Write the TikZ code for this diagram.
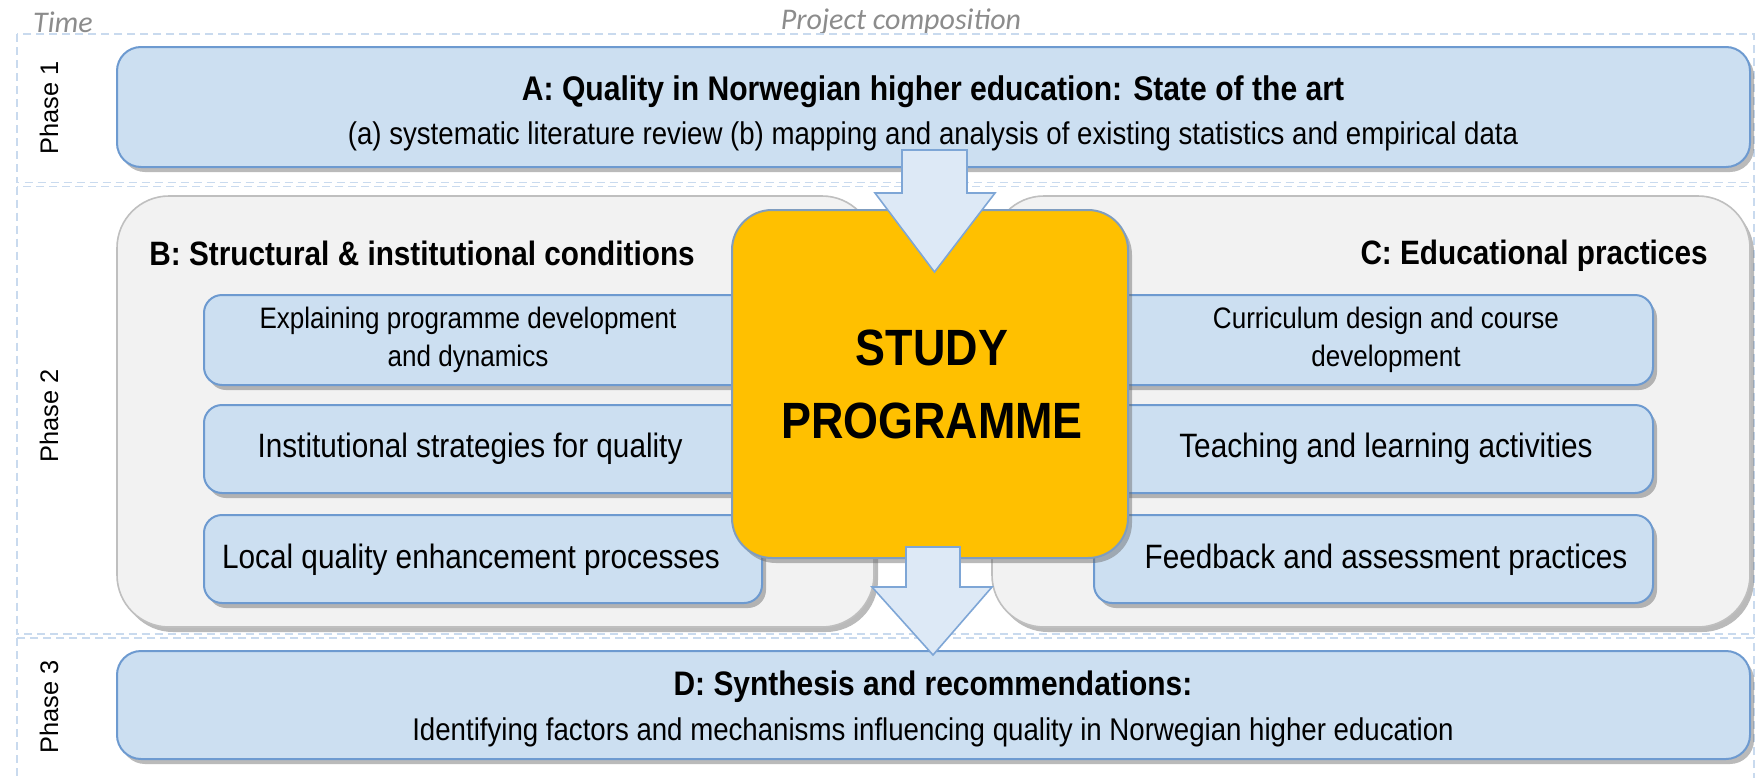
\documentclass[tikz,border=0pt]{standalone}
\usepackage{fontspec}
\setmainfont{Liberation Sans}[FakeStretch=0.88]
\newfontfamily\plainfont{Liberation Sans}
\newfontfamily\calfont{Carlito}
\usetikzlibrary{shadows}
\definecolor{boxfill}{HTML}{CCDFF1}
\definecolor{boxline}{HTML}{6D9AD0}
\definecolor{spfill}{HTML}{FFC000}
\definecolor{spline}{HTML}{7F9DC0}
\definecolor{contfill}{HTML}{F2F2F2}
\definecolor{contline}{HTML}{BFBFBF}
\definecolor{arrfill}{HTML}{DDE9F6}
\definecolor{arrline}{HTML}{7EA6D6}
\definecolor{dashcol}{HTML}{C9DAEE}
\definecolor{labgray}{HTML}{8C8C8C}
\tikzset{
  sz/.style 2 args={minimum width=#1*0.5pt, minimum height=#2*0.5pt},
  shad/.style={drop shadow={shadow xshift=2pt, shadow yshift=-2.5pt, opacity=0.45, fill=black!60}},
  bluebox/.style={draw=boxline, line width=1pt, fill=boxfill, rounded corners=9pt, inner sep=0pt, shad},
  bigbox/.style={bluebox, rounded corners=12pt},
  contbox/.style={draw=contline, line width=0.8pt, fill=contfill, rounded corners=26pt, inner sep=0pt, shad},
  spbox/.style={draw=spline, line width=1pt, fill=spfill, rounded corners=20pt, inner sep=0pt, shad},
  phasebox/.style={draw=dashcol, line width=0.8pt, dash pattern=on 4pt off 2.5pt},
  blockarrow/.style={draw=arrline, line width=0.8pt, fill=arrfill, line join=miter},
  toptext/.style={font=\calfont\itshape\fontsize{15}{17}\selectfont, text=labgray, inner sep=0pt},
  phasetext/.style={font=\plainfont\fontsize{12.7}{14}\selectfont, rotate=90, inner sep=0pt},
  titletext/.style={font=\bfseries\fontsize{17.1}{19}\selectfont, inner sep=0pt, anchor=base},
  subtext/.style={font=\fontsize{15.7}{18}\selectfont, inner sep=0pt, anchor=base},
  grouptitle/.style={font=\bfseries\fontsize{16.9}{19}\selectfont, inner sep=0pt},
  itemtext/.style={font=\fontsize{16.9}{19}\selectfont, inner sep=0pt, anchor=base},
  itemtexttwo/.style={font=\fontsize{14.8}{19}\selectfont, inner sep=0pt, align=center},
}
\begin{document}
\begin{tikzpicture}[x=0.5pt,y=-0.5pt]
\useasboundingbox (0,0) rectangle (1757,777);
\fill[white] (0,0) rectangle (1757,777);

% labels on top
\node[toptext] (time) at (63,22) {Time};
\node[toptext] (proj) at (901,22) {Project composition};

% phase areas
\draw[phasebox] (17,34) rectangle (1754,182.5);
\draw[phasebox] (17,186.5) rectangle (1754,634);
\draw[phasebox] (17,638) rectangle (1754,790);
\node[phasetext] (ph1) at (49,108) {Phase 1};
\node[phasetext] (ph2) at (49,416) {Phase 2};
\node[phasetext] (ph3) at (49,707) {Phase 3};

% Box A
\node[bigbox, sz={1633}{120}] (A) at (933.5,107) {};
\node[titletext] (Atitle) at (933,100) {A: Quality in Norwegian higher education: State of the art};
\node[subtext] (Asub) at (933,144) {(a) systematic literature review (b) mapping and analysis of existing statistics and empirical data};

% Containers B and C
\node[contbox, sz={757}{431}] (B) at (495.5,411.5) {};
\node[contbox, sz={758}{431}] (C) at (1371,411.5) {};
\node[grouptitle, anchor=base west] (Btitle) at (149,265) {B: Structural \& institutional conditions};
\node[grouptitle, anchor=base east] (Ctitle) at (1708,264) {C: Educational practices};

% sub boxes B
\node[bluebox, sz={558}{90}] (B1) at (483,340) {};
\node[bluebox, sz={558}{88}] (B2) at (483,449) {};
\node[bluebox, sz={558}{88}] (B3) at (483,559) {};
\node[itemtexttwo] (B1t) at (468,340) {Explaining programme development\\and dynamics};
\node[itemtext] (B2t) at (470,457) {Institutional strategies for quality};
\node[itemtext] (B3t) at (471,568) {Local quality enhancement processes};

% sub boxes C
\node[bluebox, sz={559}{90}] (C1) at (1373.5,340) {};
\node[bluebox, sz={559}{88}] (C2) at (1373.5,449) {};
\node[bluebox, sz={559}{88}] (C3) at (1373.5,559) {};
\node[itemtexttwo] (C1t) at (1386,340) {Curriculum design and course\\development};
\node[itemtext] (C2t) at (1386,457) {Teaching and learning activities};
\node[itemtext] (C3t) at (1386,568) {Feedback and assessment practices};

% Box D
\node[bigbox, sz={1633}{108}] (D) at (933.5,705) {};
\node[titletext, font=\bfseries\fontsize{17}{19}\selectfont] (Dtitle) at (933,695) {D: Synthesis and recommendations:};
\node[subtext] (Dsub) at (933,740) {Identifying factors and mechanisms influencing quality in Norwegian higher education};

% Study programme
\node[spbox, sz={396}{348}] (SP) at (930,384) {};
\node[font=\bfseries\fontsize{25.5}{36.5}\selectfont, inner sep=0pt, anchor=base] (SPt1) at (932,365) {STUDY};
\node[font=\bfseries\fontsize{25.5}{36.5}\selectfont, inner sep=0pt, anchor=base] (SPt2) at (932,438) {PROGRAMME};

% block arrows
\coordinate (a1) at (934.5,150);
\draw[blockarrow] (a1) ++(-32.5,0) -- ++(0,43) -- ++(-27,0) -- ++(59.5,79) -- ++(60.5,-79) -- ++(-28,0) -- ++(0,-43) -- cycle;
\coordinate (a2) at (933,547);
\draw[blockarrow] (a2) ++(-27,0) -- ++(0,40) -- ++(-34,0) -- ++(61,68) -- ++(59,-68) -- ++(-32,0) -- ++(0,-40) -- cycle;
\end{tikzpicture}
\end{document}
